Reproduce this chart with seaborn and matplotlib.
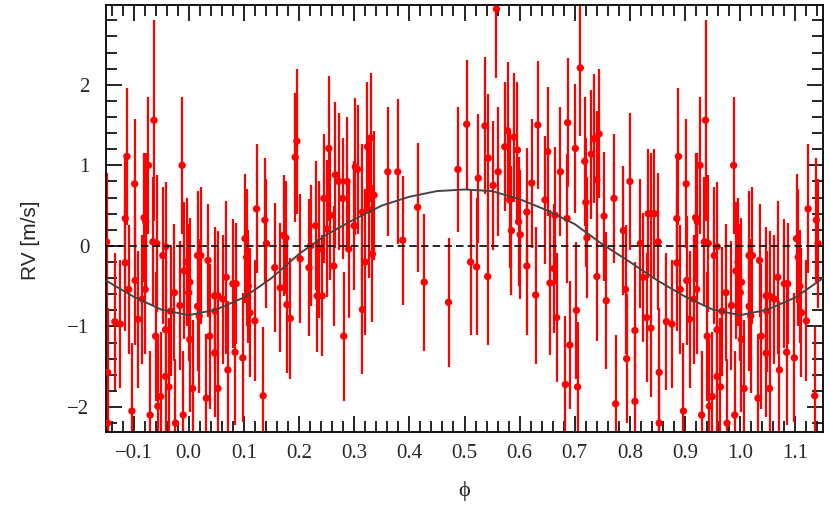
import matplotlib
matplotlib.use('Agg')

import numpy as np
import pandas as pd
import matplotlib.pyplot as plt
from matplotlib.ticker import MultipleLocator, FuncFormatter
import seaborn as sns

# ---- data (phase in 0..1) ----
phase = [
    0.000, 0.002, 0.002, 0.007, 0.016, 0.016, 0.019, 0.022, 0.032, 0.035,
    0.038, 0.047, 0.047, 0.048, 0.053, 0.053, 0.062, 0.068, 0.071, 0.080,
    0.084, 0.086, 0.098, 0.102, 0.105, 0.108, 0.111, 0.120, 0.123, 0.135,
    0.138, 0.141, 0.156,
    0.166, 0.172, 0.176, 0.178, 0.184, 0.193, 0.196, 0.202, 0.218, 0.221,
    0.230, 0.233, 0.236, 0.242, 0.245, 0.251, 0.254, 0.257, 0.263, 0.266,
    0.272, 0.279, 0.281, 0.287, 0.290, 0.300, 0.302, 0.306, 0.315, 0.315,
    0.320, 0.324, 0.327, 0.330, 0.333, 0.336,
    0.361, 0.379, 0.388, 0.415, 0.427, 0.471,
    0.488, 0.504, 0.511, 0.522, 0.525, 0.537, 0.542, 0.543, 0.552, 0.558,
    0.561, 0.573, 0.578, 0.582, 0.585, 0.590, 0.596, 0.598, 0.601, 0.613,
    0.613, 0.622, 0.629, 0.633, 0.646, 0.651, 0.655, 0.662, 0.664, 0.667,
    0.674, 0.683, 0.686, 0.687, 0.691, 0.701, 0.703, 0.705, 0.710, 0.718,
    0.720, 0.722, 0.730, 0.735, 0.740, 0.740, 0.744, 0.753, 0.757, 0.771,
    0.774, 0.788, 0.792, 0.794, 0.800, 0.809, 0.809, 0.819, 0.824, 0.830,
    0.833, 0.838, 0.838, 0.844,
    0.851, 0.853, 0.853, 0.866, 0.876, 0.885, 0.885, 0.888, 0.891, 0.897,
    0.902, 0.903, 0.908, 0.916, 0.919, 0.921, 0.922, 0.927, 0.930, 0.935,
    0.937, 0.940, 0.942, 0.944, 0.949, 0.953, 0.958, 0.958, 0.958, 0.964,
    0.967, 0.974, 0.976, 0.984, 0.988, 0.990, 0.992, 0.996,
]
rv = [
    -0.58, -0.45, -1.16, -1.77, -0.75, -0.12, -0.87, -0.12, -1.89, -0.18,
    -1.12, -0.62, -1.33, -0.81, -0.62, -1.77, -0.66, -0.39, -1.54, -0.47,
    -1.32, -0.47, -1.39, 0.09, -0.14, -0.50, -0.83, -0.93, 0.46, -1.86,
    0.32, 0.03, -0.27,
    -0.52, 0.13, 0.10, -0.73, -0.90, 1.10, 1.30, -0.16, -0.27, 0.00,
    0.25, -0.62, -0.04, -0.62, 0.59, 0.21, 1.21, 0.38, -0.25, 0.88,
    0.80, 0.59, -1.12, 0.80, -0.04, 0.25, 0.98, 0.95, -0.79, 0.42,
    -0.20, 1.23, 0.45, 1.34, -0.10, 0.63,
    0.92, 0.92, 0.07, 0.48, -0.45, -0.70,
    0.95, 1.51, -0.20, -0.26, 0.84, 1.49, -0.38, 1.09, 0.75, 2.94,
    0.92, 1.23, 1.43, 0.57, 0.19, 1.35, 1.19, 0.30, 0.14, -0.25,
    0.42, 0.78, -0.61, 1.50, 0.57, 1.17, -0.46, -0.28, 0.38, -0.89,
    0.92, -1.72, 0.34, 1.53, -1.23, 1.21, -0.80, -1.75, 2.21, 1.05,
    0.54, 0.10, 1.14, 1.33, 0.82, -0.38, 1.39, 0.37, -0.68, 0.59,
    -1.96, 0.19, -0.54, -1.40, 0.80, -1.05, -1.93, 0.03, -0.39, -0.89,
    0.40, 0.40, -1.02, 0.40,
    0.05, -1.57, -2.20, -0.94, -0.97, -0.21, 0.34, 1.11, -0.54, -2.05,
    0.77, -0.43, -0.91, -0.66, 0.35, -0.54, 0.30, 1.00, -2.10, 0.05,
    1.56, -1.12, 0.03, -1.99, -1.87, -0.12, -1.62, -1.04, -0.01, -1.75,
    -0.81, -0.58, -2.20, -0.74, 1.00, -2.10, -0.31, -0.20,
]
rv_err = [
    0.85, 0.80, 0.90, 0.85, 0.80, 0.80, 0.95, 0.85, 0.80, 0.70,
    0.90, 0.85, 0.80, 0.75, 0.80, 0.85, 0.80, 0.95, 0.85, 0.80,
    0.90, 0.75, 0.80, 0.80, 0.85, 0.70, 0.80, 0.75, 0.80, 0.85,
    0.77, 0.80, 0.80,
    0.80, 0.75, 0.70, 0.85, 0.75, 0.80, 0.90, 0.80, 0.85, 0.75,
    0.80, 0.70, 0.85, 0.75, 0.80, 0.85, 0.90, 0.80, 0.75, 0.90,
    0.85, 0.75, 0.80, 0.80, 0.85, 0.80, 0.85, 0.80, 0.80, 0.85,
    0.90, 0.80, 0.85, 0.80, 0.85, 0.80,
    0.80, 0.90, 0.80, 0.80, 0.85, 0.80,
    0.78, 0.80, 0.90, 0.85, 0.80, 0.85, 0.85, 0.80, 0.80, 0.85,
    0.80, 0.80, 0.85, 0.85, 0.80, 0.80, 0.85, 0.80, 0.80, 0.85,
    0.80, 0.80, 0.85, 0.80, 0.80, 0.80, 0.90, 0.80, 0.85, 0.80,
    0.80, 0.85, 0.80, 0.80, 0.80, 0.80, 0.85, 0.80, 0.85, 0.80,
    0.80, 0.75, 0.80, 0.80, 0.85, 0.80, 0.80, 0.80, 0.85, 0.80,
    0.85, 0.80, 0.80, 0.80, 0.85, 0.85, 0.80, 0.80, 0.80, 0.80,
    0.80, 0.75, 0.85, 0.80,
    0.85, 0.80, 0.80, 0.85, 0.80, 0.85, 0.80, 0.85, 0.80, 0.85,
    0.80, 0.80, 0.85, 0.80, 0.80, 0.80, 0.85, 0.85, 0.80, 0.80,
    1.25, 0.80, 0.85, 0.85, 0.80, 0.85, 0.80, 0.85, 0.80, 0.85,
    0.80, 0.85, 0.80, 0.80, 0.85, 0.80, 0.85, 0.80,
]

# model curve, read at 0.05 steps in phase
model_phase = [0.00, 0.05, 0.10, 0.15, 0.20, 0.25, 0.30, 0.35, 0.40, 0.45, 0.50,
               0.55, 0.60, 0.65, 0.70, 0.75, 0.80, 0.85, 0.90, 0.95]
model_rv = [-0.86, -0.79, -0.64, -0.40, -0.10, 0.14, 0.33, 0.50, 0.61, 0.68, 0.70,
            0.68, 0.58, 0.44, 0.27, 0.02, -0.20, -0.43, -0.63, -0.79]

x_lim = (-0.15, 1.15)
y_lim = (-2.31, 2.99)

# ---- fold: repeat points on both sides of [0, 1) ----
df = pd.DataFrame({"phase": phase, "rv": rv, "err": rv_err})
folded = pd.concat([
    df,
    df[df.phase >= 0.8].assign(phase=lambda d: d.phase - 1),
    df[df.phase < 0.2].assign(phase=lambda d: d.phase + 1),
], ignore_index=True)

mdf = pd.DataFrame({"phase": model_phase, "rv": model_rv})
model = pd.concat([mdf.assign(phase=mdf.phase - 1), mdf, mdf.assign(phase=mdf.phase + 1)],
                  ignore_index=True).sort_values("phase")
model = model[(model.phase >= -0.25) & (model.phase <= 1.25)]

# ---- plot ----
sns.set_style("ticks")
plt.rcParams['font.family'] = ['Liberation Serif', 'DejaVu Serif']

fig = plt.figure(figsize=(8.3, 5.2), dpi=100)
ax = fig.add_axes([106 / 830, 88 / 520, 717 / 830, 427 / 520])

ax.errorbar(folded.phase, folded.rv, yerr=folded.err, fmt='none',
            ecolor='#ff0000', elinewidth=1.6, capsize=0, zorder=2)
sns.scatterplot(data=folded, x="phase", y="rv", color='#ff0000', s=28,
                edgecolor='none', linewidth=0, ax=ax, zorder=3, legend=False)
sns.lineplot(data=model, x="phase", y="rv", color='#444444', lw=1.4,
             sort=False, ax=ax, zorder=5)
ax.axhline(0, color='black', lw=1.2, ls=(0, (4.5, 2.5)), zorder=5)

ax.set_xlim(*x_lim)
ax.set_ylim(*y_lim)

ax.xaxis.set_major_locator(MultipleLocator(0.1))
ax.xaxis.set_minor_locator(MultipleLocator(0.02))
ax.yaxis.set_major_locator(MultipleLocator(1))
ax.yaxis.set_minor_locator(MultipleLocator(0.2))

def fmt_x(v, pos):
    s = f"{round(v, 1):.1f}"
    if s == "-0.0":
        s = "0.0"
    return s.replace("-", "\u2212")

def fmt_y(v, pos):
    return f"{int(round(v))}".replace("-", "\u2212")

ax.xaxis.set_major_formatter(FuncFormatter(fmt_x))
ax.yaxis.set_major_formatter(FuncFormatter(fmt_y))

ax.tick_params(which='both', direction='in', top=True, right=True,
               width=1.2, color='black', labelsize=15)
ax.tick_params(which='major', length=11.5)
ax.tick_params(which='minor', length=8)
ax.tick_params(axis='x', pad=9)
ax.tick_params(axis='y', pad=12)

for sp in ax.spines.values():
    sp.set_linewidth(1.3)
    sp.set_color('black')

ax.set_ylabel("RV [m/s]", fontsize=15, family=['Liberation Sans', 'DejaVu Sans'])
ax.yaxis.set_label_coords(-0.092, 0.45)
ax.set_xlabel("\u03d5", fontsize=16, family=['Liberation Serif', 'DejaVu Serif'])
ax.xaxis.set_label_coords(0.5, -0.115)

fig.savefig("out.png", dpi=100)
